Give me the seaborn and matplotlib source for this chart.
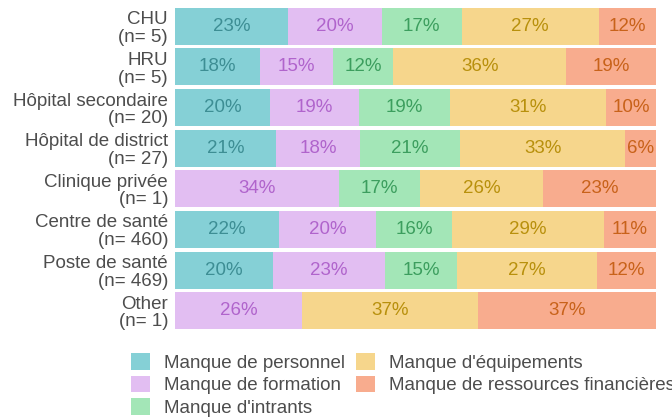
"""Stacked horizontal bars: reported shortages by facility type."""
import matplotlib
matplotlib.use("Agg")
import matplotlib.pyplot as plt
import numpy as np
import seaborn as sns

FACILITIES = [
    "CHU\n(n= 5)", "HRU\n(n= 5)", "Hôpital secondaire\n(n= 20)",
    "Hôpital de district\n(n= 27)", "Clinique privée\n(n= 1)",
    "Centre de santé\n(n= 460)", "Poste de santé\n(n= 469)", "Other\n(n= 1)",
]
SERIES = [
    "Manque de personnel", "Manque de formation", "Manque d'intrants",
    "Manque d'équipements", "Manque de ressources financières",
]
# share of each bar (%)
personnel = [23.5, 17.7, 19.8, 21.0, 0.0, 21.6, 20.4, 0.0]
formation = [19.5, 15.2, 18.5, 17.5, 34.1, 20.2, 23.3, 26.4]
intrants = [16.6, 12.5, 18.9, 20.8, 16.8, 15.8, 15.0, 0.0]
equipements = [28.5, 36.0, 32.4, 34.3, 25.6, 31.6, 29.1, 36.6]
financieres = [11.9, 18.7, 10.4, 6.4, 23.5, 10.8, 12.3, 37.0]
# printed labels
lab_personnel = [23, 18, 20, 21, None, 22, 20, None]
lab_formation = [20, 15, 19, 18, 34, 20, 23, 26]
lab_intrants = [17, 12, 19, 21, 17, 16, 15, None]
lab_equipements = [27, 36, 31, 33, 26, 29, 27, 37]
lab_financieres = [12, 19, 10, 6, 23, 11, 12, 37]

FILL = ["#85D0D6", "#E2BEF2", "#A3E6B7", "#F6D68C", "#F8AC8E"]
TEXT = ["#3D8E94", "#B064CC", "#3C9E5E", "#B8900C", "#C8621A"]
FS = 13.5

sns.set_theme(style="white")
plt.rcParams["font.family"] = ["Liberation Sans", "DejaVu Sans"]

fig = plt.figure(figsize=(6.72, 4.18), dpi=100)
ax = fig.add_axes([175 / 672, 1 - 331 / 418, 481 / 672, 325 / 418])

values = np.array([personnel, formation, intrants, equipements, financieres])
labels = [lab_personnel, lab_formation, lab_intrants, lab_equipements, lab_financieres]
totals = values.sum(axis=0)
shares = values / totals * 100
y = np.arange(len(FACILITIES))
left = np.zeros(len(FACILITIES))
for i, name in enumerate(SERIES):
    w = shares[i]
    ax.barh(y, w, left=left, height=0.91, color=FILL[i], label=name, linewidth=0)
    for j in range(len(FACILITIES)):
        if labels[i][j] is not None and w[j] > 0:
            ax.text(left[j] + w[j] / 2, y[j], f"{labels[i][j]}%", ha="center",
                    va="center", color=TEXT[i], fontsize=FS)
    left += w

ax.set_xlim(0, 100)
ax.set_ylim(len(FACILITIES) - 0.5, -0.5)
ax.set_yticks(y)
ax.set_yticklabels(FACILITIES, fontsize=FS, color="#4D4D4D", linespacing=1.05)
ax.tick_params(axis="y", length=0, pad=5)
ax.set_xticks([])
sns.despine(ax=ax, left=True, bottom=True)

# legend runs past the right edge and gets clipped, as in the original
fig.legend(loc="upper left", bbox_to_anchor=(131 / 672, 1 - 353 / 418), ncol=2,
           frameon=False, fontsize=FS, handlelength=1.0, handleheight=1.0,
           handletextpad=0.75, columnspacing=0.6, labelspacing=0.2,
           labelcolor="#4D4D4D", borderaxespad=0, borderpad=0)

fig.savefig("out.png", dpi=100)
